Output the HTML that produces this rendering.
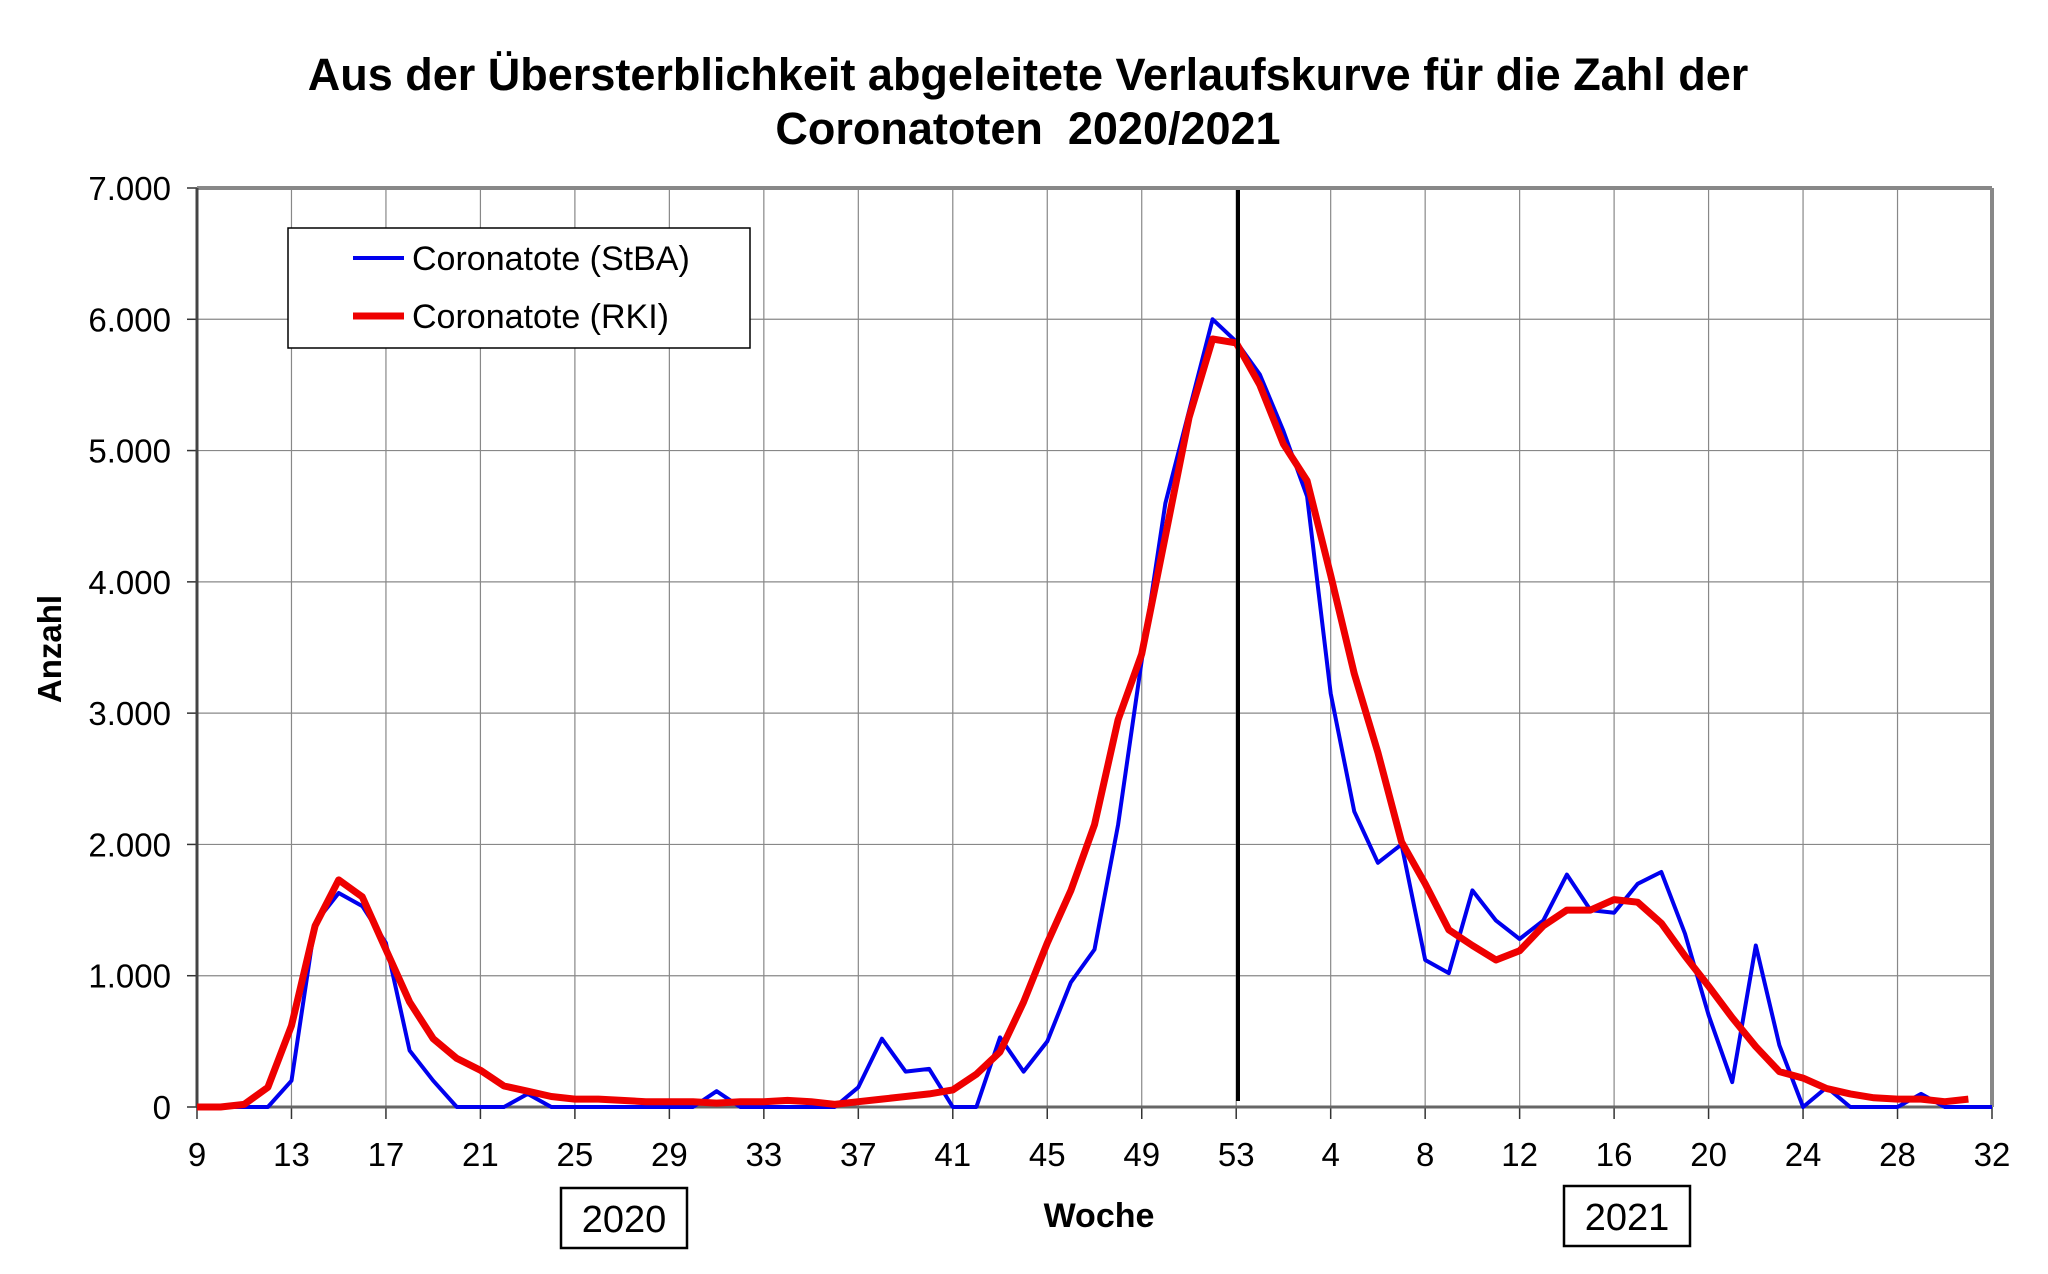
<!DOCTYPE html>
<html><head><meta charset="utf-8"><style>
body{margin:0;background:#fff}
svg{display:block;font-family:"Liberation Sans",Arial,sans-serif}
</style></head><body>
<svg id="chart" width="2048" height="1274" viewBox="0 0 2048 1274" xmlns="http://www.w3.org/2000/svg">
<text x="1028" y="90" font-size="45" font-weight="bold" text-anchor="middle">Aus der Übersterblichkeit abgeleitete Verlaufskurve für die Zahl der</text>
<text x="1028" y="144" font-size="45" font-weight="bold" text-anchor="middle" xml:space="preserve">Coronatoten  2020/2021</text>
<g id="grid"></g>
<g id="axes"></g>
<g id="series"></g>
<line x1="1238" y1="190" x2="1238" y2="1101" stroke="#000" stroke-width="4"/>
<g>
<rect x="288" y="228" width="462" height="120" fill="#fff" stroke="#000" stroke-width="1.5"/>
<line x1="353" y1="258" x2="404" y2="258" stroke="#0000ee" stroke-width="4"/>
<text x="412" y="270" font-size="34">Coronatote (StBA)</text>
<line x1="353" y1="316" x2="404" y2="316" stroke="#ee0000" stroke-width="7"/>
<text x="412" y="328" font-size="34">Coronatote (RKI)</text>
</g>
<text transform="translate(61,649) rotate(-90)" font-size="33" font-weight="bold" text-anchor="middle">Anzahl</text>
<text x="1099" y="1227" font-size="34" font-weight="bold" text-anchor="middle">Woche</text>
<g><rect x="561" y="1188" width="126" height="60" fill="#fff" stroke="#000" stroke-width="2.5"/><text x="624" y="1232" font-size="38" text-anchor="middle">2020</text></g>
<g><rect x="1564" y="1186" width="126" height="60" fill="#fff" stroke="#000" stroke-width="2.5"/><text x="1627" y="1230" font-size="38" text-anchor="middle">2021</text></g>
</svg>
<script>
const weekLabels=[9,10,11,12,13,14,15,16,17,18,19,20,21,22,23,24,25,26,27,28,29,30,31,32,33,34,35,36,37,38,39,40,41,42,43,44,45,46,47,48,49,50,51,52,53,1,2,3,4,5,6,7,8,9,10,11,12,13,14,15,16,17,18,19,20,21,22,23,24,25,26,27,28,29,30,31,32];
const stba=[0,0,0,0,200,1400,1630,1530,1250,430,200,0,0,0,100,0,0,0,0,0,0,0,120,0,0,0,0,0,150,520,270,290,0,0,530,270,500,950,1200,2150,3400,4600,5300,6000,5830,5580,5150,4650,3150,2250,1860,2000,1120,1020,1650,1420,1280,1420,1770,1500,1480,1700,1790,1320,700,190,1230,470,0,150,0,0,0,100,0,0,0];
const rki=[0,0,20,150,620,1380,1730,1600,1200,800,520,370,280,160,120,80,60,60,50,40,40,40,30,40,40,50,40,20,40,60,80,100,130,250,420,800,1250,1650,2150,2950,3450,4350,5250,5850,5820,5500,5050,4770,4050,3300,2700,2020,1700,1350,1230,1120,1190,1380,1500,1500,1580,1560,1400,1150,920,680,460,270,220,140,100,70,60,60,40,60];
const yTicks=[0,1000,2000,3000,4000,5000,6000,7000];
const yTickLabels=["0","1.000","2.000","3.000","4.000","5.000","6.000","7.000"];
const NS="http://www.w3.org/2000/svg";
const L=197,R=1992,T=188,B=1107;
const xPos=i=>L+i*(R-L)/(weekLabels.length-1);
const yPos=v=>B-v/7000*(B-T);
function mk(tag,attrs,parent){const e=document.createElementNS(NS,tag);for(const k in attrs)e.setAttribute(k,attrs[k]);parent.appendChild(e);return e;}
const grid=document.getElementById('grid'),axes=document.getElementById('axes'),series=document.getElementById('series');
yTicks.forEach((v,j)=>{
  const l=mk('line',{x1:L,x2:R,y1:yPos(v),y2:yPos(v),stroke:'#888','stroke-width':1.2},grid);
  
  
  mk('line',{x1:L-10,x2:L,y1:yPos(v),y2:yPos(v),stroke:'#333','stroke-width':1.5},axes);
  const t=mk('text',{x:L-26,y:yPos(v)+12,'font-size':33,'text-anchor':'end'},axes);
  t.textContent=yTickLabels[j];
  
  
});
weekLabels.forEach((w,i)=>{
  if(i%4!==0)return;
  const x=xPos(i);
  const g=mk('line',{x1:x,x2:x,y1:T,y2:B,stroke:'#888','stroke-width':1.2},grid);
  
  
  mk('line',{x1:x,x2:x,y1:B,y2:B+12,stroke:'#333','stroke-width':1.5},axes);
  const t=mk('text',{x:x,y:B+59,'font-size':33,'text-anchor':'middle'},axes);
  t.textContent=w;
  
  
});
mk('line',{x1:L,x2:R,y1:T,y2:T,stroke:'#888','stroke-width':4},axes);
mk('line',{x1:R,x2:R,y1:T,y2:B,stroke:'#888','stroke-width':4},axes);
mk('line',{x1:L,x2:L,y1:T,y2:B,stroke:'#444','stroke-width':3},axes);
mk('line',{x1:L,x2:R,y1:B,y2:B,stroke:'#666','stroke-width':3},axes);
function path(arr){return arr.map((v,i)=>(i?'L':'M')+xPos(i).toFixed(1)+' '+yPos(v).toFixed(1)).join(' ');}
const pb=mk('path',{d:path(stba),fill:'none',stroke:'#0000ee','stroke-width':4,'stroke-linejoin':'round'},series);


const pr=mk('path',{d:path(rki),fill:'none',stroke:'#ee0000','stroke-width':7,'stroke-linejoin':'round'},series);


</script>
</body></html>
